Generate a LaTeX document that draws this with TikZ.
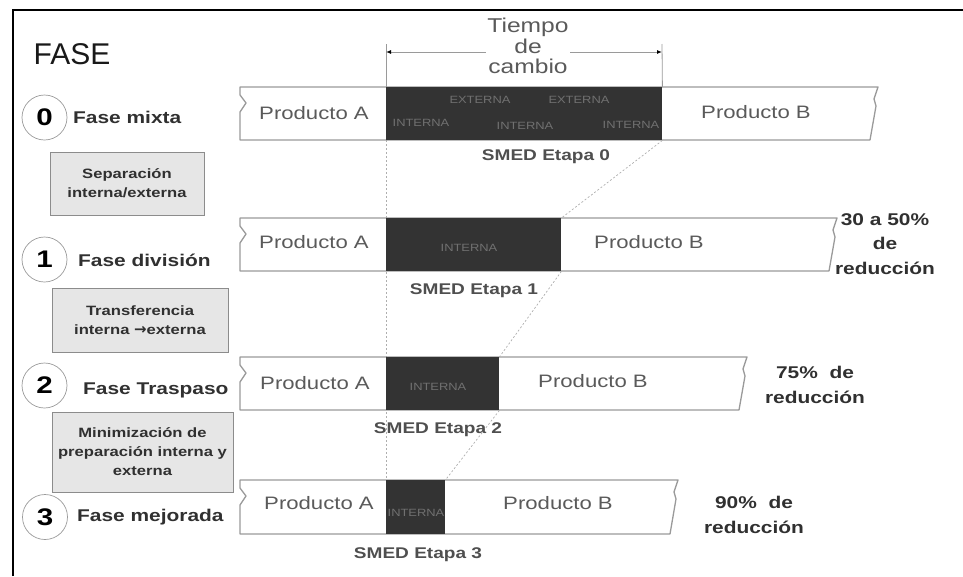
\documentclass[tikz,border=0pt]{standalone}
\usepackage{fontspec}
\setmainfont{Liberation Sans}
\newfontfamily\widesans[FakeStretch=1.23]{Liberation Sans}
\newfontfamily\symfont{DejaVu Sans}
\usetikzlibrary{arrows.meta}

\definecolor{darkfill}{HTML}{333333}
\definecolor{barline}{HTML}{9A9A9A}
\definecolor{prodgray}{HTML}{5A5A5A}
\definecolor{labelgray}{HTML}{303030}
\definecolor{boxfill}{HTML}{E6E6E6}
\definecolor{boxline}{HTML}{8C8C8C}
\definecolor{innergray}{HTML}{707070}

% one production bar: top y, bottom y, right end x (torn edges on both sides)
\newcommand{\prodbar}[3]{%
  \filldraw[bar] (240,#1) -- (#3,#1) -- (#3-4,#1+12) -- (#3-2,#1+19) -- (#3-8,#2)
    -- (240,#2) -- (240,#1+25) -- (246,#1+16) -- (240,#1+8) -- cycle;}

\begin{document}
\begin{tikzpicture}[x=1pt,y=-1pt,
  bar/.style={draw=barline, fill=white, line width=1.3pt, line join=round},
  dark/.style={fill=darkfill, draw=none, inner sep=0pt, anchor=north west},
  guide/.style={draw=barline!80!white, line width=0.7pt, dash pattern=on 2pt off 2pt},
  ext/.style={draw=barline, line width=0.8pt},
  dimline/.style={draw=barline, line width=1pt, {Latex[length=5pt,width=4pt,color=black]}-{Latex[length=5pt,width=4pt,color=black]}},
  dimtext/.style={font={\widesans\fontsize{20}{20.5}\selectfont}, text=prodgray, align=center, fill=white, inner sep=1pt},
  prodtext/.style={font={\widesans\fontsize{18}{21}\selectfont}, text=prodgray, inner sep=0pt},
  intext/.style={font={\widesans\fontsize{10.5}{12}\selectfont}, text=innergray, inner sep=0pt},
  phasenum/.style={circle, draw=barline, line width=0.7pt, minimum size=45pt, inner sep=0pt,
    font={\widesans\bfseries\fontsize{24}{26}\selectfont}, text=black},
  phasetext/.style={font={\widesans\bfseries\fontsize{17}{20}\selectfont}, text=labelgray, anchor=west, inner sep=0pt},
  stepnote/.style={draw=boxline, fill=boxfill, line width=1pt, align=center, inner sep=0pt,
    font={\widesans\bfseries\fontsize{13.5}{19}\selectfont}, text=labelgray},
  smed/.style={font={\widesans\bfseries\fontsize{15.5}{18}\selectfont}, text=labelgray!85!white, inner sep=0pt},
  gain/.style={font={\widesans\bfseries\fontsize{17}{24.5}\selectfont}, text=labelgray, align=center, inner sep=0pt}
]
\useasboundingbox (0,0) rectangle (963,576);

% outer frame (left and top edges)
\coordinate (fbl) at (13,576);
\coordinate (ftl) at (13,10);
\coordinate (ftr) at (963,10);
\draw[line width=2.6pt, line join=miter] (fbl) -- (ftl) -- (ftr);

\node[font={\fontsize{30}{32}\selectfont}, text=black!90, inner sep=0pt] (fase) at (72,54) {FASE};

% start line of the changeover, carried down through all stages
\coordinate (v0) at (386,140);
\coordinate (v3) at (386,480);
\draw[guide] (v0) -- (v3);

% production bars
\prodbar{87}{140}{878}
\prodbar{218}{271}{837}
\prodbar{357}{410}{747}
\prodbar{480}{534}{678}

% changeover blocks
\node[dark, minimum width=276pt, minimum height=53pt] (d0) at (386,87) {};
\node[dark, minimum width=175pt, minimum height=53pt] (d1) at (386,218) {};
\node[dark, minimum width=113pt, minimum height=53pt] (d2) at (386,357) {};
\node[dark, minimum width=59pt,  minimum height=54pt] (d3) at (386,480) {};

\draw[guide] (d0.south east) -- (d1.north east);
\draw[guide] (d1.south east) -- (d2.north east);
\draw[guide] (d2.south east) -- (d3.north east);

% changeover time dimension
\coordinate (x0t) at (386,44);
\coordinate (x1t) at (662,44);
\draw[ext] (x0t) -- (d0.north west);
\draw[ext] (x1t) -- (d0.north east);
\coordinate (a0) at (386,52);
\coordinate (a1) at (662,52);
\draw[dimline] (a0) -- (a1);
\node[dimtext] (tc) at (528,46) {Tiempo\\de\\cambio};

% texts inside the blocks
\node[intext] (ex1) at (480,100) {EXTERNA};
\node[intext] (ex2) at (579,100) {EXTERNA};
\node[intext] (in1) at (421,123) {INTERNA};
\node[intext] (in2) at (525,126) {INTERNA};
\node[intext] (in3) at (631,125) {INTERNA};
\node[intext] (in4) at (469,248) {INTERNA};
\node[intext] (in5) at (438,387) {INTERNA};
\node[intext] (in6) at (416,513) {INTERNA};

% products
\node[prodtext] (pa0) at (314,113) {Producto A};
\node[prodtext] (pb0) at (756,112) {Producto B};
\node[prodtext] (pa1) at (314,242) {Producto A};
\node[prodtext] (pb1) at (649,242) {Producto B};
\node[prodtext] (pa2) at (315,383) {Producto A};
\node[prodtext] (pb2) at (593,381) {Producto B};
\node[prodtext] (pa3) at (319,503) {Producto A};
\node[prodtext] (pb3) at (558,503) {Producto B};

% stage captions
\node[smed] (s0) at (546,157) {SMED Etapa 0};
\node[smed] (s1) at (474,291) {SMED Etapa 1};
\node[smed] (s2) at (438,430) {SMED Etapa 2};
\node[smed] (s3) at (418,555) {SMED Etapa 3};

% phases
\node[phasenum] (c0) at (44.5,117.5) {0};
\node[phasenum] (c1) at (44.5,259.5) {1};
\node[phasenum] (c2) at (44.5,385.5) {2};
\node[phasenum] (c3) at (45,517) {3};
\node[phasetext] (f0) at (73,117) {Fase mixta};
\node[phasetext] (f1) at (78,260) {Fase división};
\node[phasetext] (f2) at (83,390) {Fase Traspaso};
\node[phasetext] (f3) at (77,517) {Fase mejorada};

% steps between phases
\node[stepnote, minimum width=154pt, minimum height=63pt] (b0) at (127,183.5) {Separación\\interna/externa};
\node[stepnote, minimum width=176pt, minimum height=64pt] (b1) at (140,320) {Transferencia\\interna\ {\symfont\fontsize{15}{16}\selectfont →}externa};
\node[stepnote, minimum width=181pt, minimum height=80pt] (b2) at (142.5,452) {Minimización de\\preparación interna y\\externa};

% reductions
\node[gain] (g1) at (885,244) {30 a 50\%\\de\\reducción};
\node[gain] (g2) at (815,385) {75\%\ \ de\\reducción};
\node[gain] (g3) at (754,515) {90\%\ \ de\\reducción};
\end{tikzpicture}
\end{document}
